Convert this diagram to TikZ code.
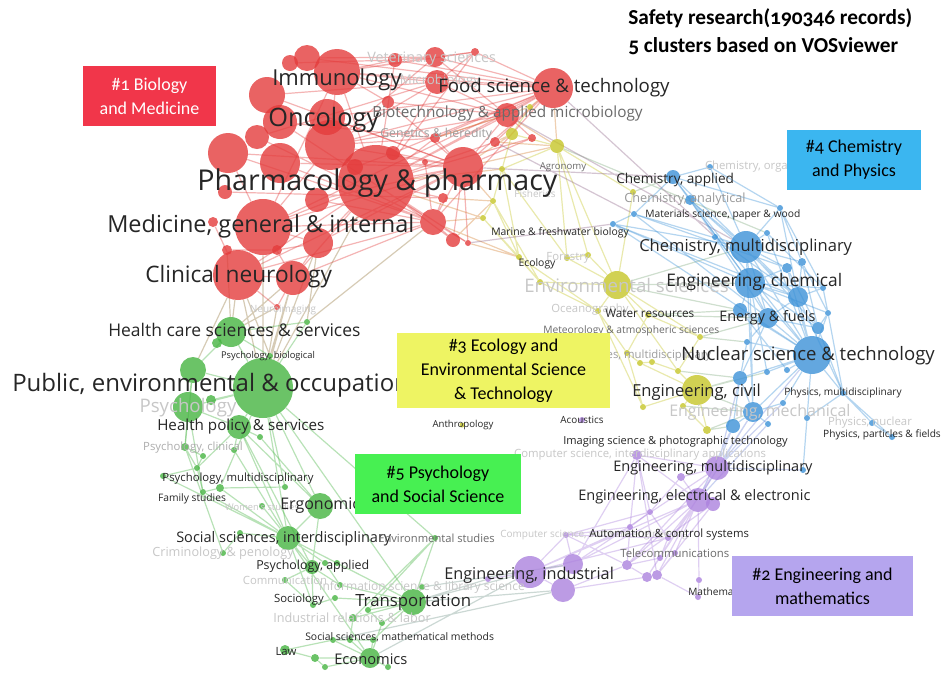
\documentclass[tikz,border=0pt]{standalone}
\usepackage{fontspec}
\usetikzlibrary{backgrounds}
\newfontfamily\vosfont{Open Sans}
\newfontfamily\capfont[Numbers=OldStyle]{Carlito}
\newcommand{\fsz}[1]{\fontsize{#1}{#1}\selectfont}
\definecolor{vred}{RGB}{228,60,60}
\definecolor{vgrn}{RGB}{70,180,66}
\definecolor{vyel}{RGB}{198,198,40}
\definecolor{vblu}{RGB}{60,146,216}
\definecolor{vpur}{RGB}{172,130,222}
\definecolor{boxred}{RGB}{241,54,74}
\definecolor{boxblu}{RGB}{59,182,240}
\definecolor{boxyel}{RGB}{238,244,99}
\definecolor{boxgrn}{RGB}{71,240,82}
\definecolor{boxpur}{RGB}{181,165,238}

\begin{document}
\begin{tikzpicture}[
  x=0.75pt, y=-0.75pt,
  dot/.style={circle, inner sep=0pt, fill opacity=0.8, minimum size=#1*1.5pt},
  redc/.style={dot=#1, fill=vred},
  grnc/.style={dot=#1, fill=vgrn},
  yelc/.style={dot=#1, fill=vyel},
  bluc/.style={dot=#1, fill=vblu},
  purc/.style={dot=#1, fill=vpur},
  link/.style={line width=0.9pt, draw opacity=0.38},
  rlink/.style={link, draw=vred},
  glink/.style={link, draw=vgrn},
  ylink/.style={link, draw=vyel},
  blink/.style={link, draw=vblu},
  plink/.style={link, draw=vpur},
  rglink/.style={link, draw=vred!50!vgrn},
  rylink/.style={link, draw=vred!50!vyel},
  yblink/.style={link, draw=vyel!50!vblu},
  rblink/.style={link, draw=vred!50!vblu},
  bplink/.style={link, draw=vblu!50!vpur},
  gplink/.style={link, draw=vgrn!50!vpur},
  lbl/.style={inner sep=0pt, text=black!85, font=\vosfont\fsz{#1}},
  dimlbl/.style={lbl=#1, text=black!58},
  faintlbl/.style={lbl=#1, text=black!22},
  cbox/.style={inner sep=0pt, align=center, font=\capfont\fontsize{13.5}{18}\selectfont},
  ttl/.style={inner sep=0pt, align=left, font=\capfont\bfseries\fontsize{16}{21}\selectfont}
]
\useasboundingbox (0,0) rectangle (945,672);

% red cluster
\node[redc=8] (ra) at (290,63) {};
\node[redc=13] (rb) at (307,58) {};
\node[redc=23] (imm) at (337,72) {};
\node[redc=18] (rc) at (267,95) {};
\node[redc=17] (rd) at (280,122) {};
\node[redc=18] (re) at (327,117) {};
\node[redc=25] (onc) at (330,145) {};
\node[redc=20] (rf) at (228,153) {};
\node[redc=12] (rg) at (257,137) {};
\node[redc=20] (rh) at (280,163) {};
\node[redc=38] (ph) at (376,183) {};
\node[redc=28] (med) at (263,227) {};
\node[redc=12] (ri) at (317,200) {};
\node[redc=7] (rj) at (225,192) {};
\node[redc=15] (rk) at (318,243) {};
\node[redc=25] (clin) at (238,275) {};
\node[redc=17] (rl) at (293,278) {};
\node[redc=5] (rm) at (277,250) {};
\node[redc=5] (rn) at (227,250) {};
\node[redc=5] (ro) at (213,222) {};
\node[redc=8] (rp) at (355,167) {};
\node[redc=7] (rq) at (393,153) {};
\node[redc=20] (rr) at (463,167) {};
\node[redc=13] (rs) at (433,222) {};
\node[redc=7] (rt) at (453,240) {};
\node[redc=3] (ru) at (425,162) {};
\node[redc=5] (rv) at (443,198) {};
\node[redc=7] (vet) at (395,60) {};
\node[redc=10] (rw) at (435,57) {};
\node[redc=12] (micro) at (437,82) {};
\node[redc=4] (rx) at (475,52) {};
\node[redc=6] (ry) at (388,102) {};
\node[redc=5] (gen) at (435,138) {};
\node[redc=5] (rz) at (495,142) {};
\node[redc=20] (food) at (553,88) {};
\node[redc=12] (biot) at (507,115) {};
\node[redc=4] (raa) at (532,138) {};
\node[redc=3] (neuro) at (277,307) {};
\node[redc=3] (rab) at (468,243) {};

% green cluster
\node[grnc=30] (pub) at (263,388) {};
\node[grnc=13] (ga) at (193,370) {};
\node[grnc=15] (gb) at (188,407) {};
\node[grnc=15] (hcs) at (231,332) {};
\node[grnc=5] (gc) at (217,343) {};
\node[grnc=5] (gd) at (211,400) {};
\node[grnc=12] (hpol) at (239,427) {};
\node[grnc=3] (ge) at (260,437) {};
\node[grnc=4] (pclin) at (185,447) {};
\node[grnc=3] (gf) at (234,450) {};
\node[grnc=3] (gg) at (203,456) {};
\node[grnc=3] (gh) at (197,468) {};
\node[grnc=3] (gi) at (163,476) {};
\node[grnc=3] (fam) at (203,492) {};
\node[grnc=4] (pmul) at (220,488) {};
\node[grnc=3] (gj) at (285,487) {};
\node[grnc=13] (ergo) at (320,506) {};
\node[grnc=3] (women) at (262,506) {};
\node[grnc=12] (ssi) at (288,538) {};
\node[grnc=3] (gk) at (240,533) {};
\node[grnc=3] (crim) at (223,553) {};
\node[grnc=7] (papp) at (312,567) {};
\node[grnc=3] (gl) at (325,563) {};
\node[grnc=3] (gm) at (337,563) {};
\node[grnc=3] (comm) at (285,580) {};
\node[grnc=3] (gn) at (340,585) {};
\node[grnc=3] (soc) at (313,605) {};
\node[grnc=3] (go) at (335,598) {};
\node[grnc=13] (trans) at (413,602) {};
\node[grnc=3] (gp) at (368,610) {};
\node[grnc=4] (indrel) at (353,618) {};
\node[grnc=3] (info) at (422,587) {};
\node[grnc=3] (envst) at (435,538) {};
\node[grnc=3] (gq) at (382,623) {};
\node[grnc=3] (gr) at (333,640) {};
\node[grnc=3] (gs) at (350,640) {};
\node[grnc=3] (gt) at (373,640) {};
\node[grnc=5] (law) at (285,650) {};
\node[grnc=4] (gu) at (315,658) {};
\node[grnc=10] (econ) at (370,658) {};
\node[grnc=3] (gv) at (388,667) {};
\node[grnc=3] (gw) at (325,667) {};
\node[grnc=3] (psybio) at (270,356) {};
\node[grnc=3] (gx) at (307,322) {};

% yellow cluster
\node[yelc=14] (envs) at (617,285) {};
\node[yelc=15] (civ) at (697,390) {};
\node[yelc=6] (ya) at (512,134) {};
\node[yelc=7] (yb) at (557,146) {};
\node[yelc=3] (yc) at (530,107) {};
\node[yelc=3] (yd) at (502,169) {};
\node[yelc=3] (ye) at (493,201) {};
\node[yelc=3] (yf) at (483,218) {};
\node[yelc=3] (yg) at (588,255) {};
\node[yelc=3] (forest) at (567,258) {};
\node[yelc=3] (yh) at (633,192) {};
\node[yelc=3] (yi) at (540,282) {};
\node[yelc=3] (ecol) at (519,257) {};
\node[yelc=3] (ocean) at (598,311) {};
\node[yelc=3] (water) at (648,315) {};
\node[yelc=3] (yj) at (700,337) {};
\node[yelc=3] (yk) at (627,353) {};
\node[yelc=3] (yl) at (640,363) {};
\node[yelc=3] (ym) at (652,362) {};
\node[yelc=3] (yn) at (678,371) {};
\node[yelc=3] (yo) at (643,407) {};
\node[yelc=3] (yp) at (683,406) {};
\node[yelc=4] (yq) at (707,430) {};
\node[yelc=2.5] (anth) at (462,425) {};

% blue cluster
\node[bluc=7] (chapp) at (673,177) {};
\node[bluc=3] (org) at (710,167) {};
\node[bluc=5] (anal) at (690,200) {};
\node[bluc=3] (ba) at (634,214) {};
\node[bluc=3] (bb) at (613,224) {};
\node[bluc=3] (bc) at (715,237) {};
\node[bluc=16] (chmul) at (746,247) {};
\node[bluc=15] (engch) at (750,283) {};
\node[bluc=10] (bd) at (798,297) {};
\node[bluc=3] (be) at (780,208) {};
\node[bluc=3] (bf) at (767,233) {};
\node[bluc=4] (bg) at (802,262) {};
\node[bluc=5] (bh) at (787,268) {};
\node[bluc=3] (bi) at (823,288) {};
\node[bluc=3] (bj) at (828,313) {};
\node[bluc=7] (bk) at (740,310) {};
\node[bluc=10] (en) at (768,318) {};
\node[bluc=6] (bl) at (818,328) {};
\node[bluc=3] (bm) at (747,342) {};
\node[bluc=19] (nuc) at (812,355) {};
\node[bluc=3] (bn) at (787,370) {};
\node[bluc=3] (bo) at (767,372) {};
\node[bluc=7] (bp) at (740,378) {};
\node[bluc=10] (mech) at (753,412) {};
\node[bluc=7] (bq) at (733,426) {};
\node[bluc=3] (br) at (768,424) {};
\node[bluc=3] (bs) at (783,403) {};
\node[bluc=3] (bt) at (807,418) {};
\node[bluc=3] (phm) at (843,393) {};
\node[bluc=3] (phn) at (872,423) {};
\node[bluc=3] (php) at (892,437) {};
\node[bluc=3] (bu) at (803,470) {};

% purple cluster
\node[purc=12] (mulE) at (717,468) {};
\node[purc=12] (ele) at (698,500) {};
\node[purc=7] (pa) at (713,504) {};
\node[purc=4] (pb) at (681,477) {};
\node[purc=5] (img) at (637,455) {};
\node[purc=3] (pc) at (650,512) {};
\node[purc=3] (pd) at (630,527) {};
\node[purc=3] (cs) at (566,535) {};
\node[purc=3] (auto) at (668,538) {};
\node[purc=3] (pe) at (660,558) {};
\node[purc=5] (pf) at (627,565) {};
\node[purc=5] (pg) at (647,577) {};
\node[purc=5] (pgg) at (657,575) {};
\node[purc=3] (tel) at (675,553) {};
\node[purc=3] (pj) at (699,580) {};
\node[purc=3] (math) at (698,597) {};
\node[purc=16] (ind) at (530,572) {};
\node[purc=10] (pk) at (573,564) {};
\node[purc=12] (pl) at (563,590) {};
\node[purc=3] (pm) at (488,579) {};
\node[purc=3] (acou) at (582,420) {};

% links
\begin{scope}[on background layer]
\fill[white] (0,0) rectangle (945,672);
\draw[rlink] (ph) -- (med) (ph) -- (onc) (ph) -- (imm) (ph) -- (clin) (ph) -- (food) (ph) -- (biot) (ph) -- (rr) (ph) -- (rs) (ph) -- (gen) (ph) -- (micro) (ph) -- (rz) (ph) -- (rt) (ph) -- (rv) (ph) -- (rk) (ph) -- (rl) (ph) -- (rx) (ph) -- (vet) (ph) -- (raa) (ph) -- (rab);
\draw[rlink] (med) -- (clin) (med) -- (onc) (med) -- (rf) (med) -- (rk) (med) -- (rl) (med) -- (rs) (med) -- (imm) (med) -- (food) (med) -- (rr);
\draw[rlink] (onc) -- (imm) (onc) -- (rr) (onc) -- (food) (onc) -- (biot) (onc) -- (micro) (onc) -- (rw) (onc) -- (gen);
\draw[rlink] (imm) -- (micro) (imm) -- (rw) (imm) -- (vet) (imm) -- (food) (imm) -- (ry) (imm) -- (rx) (imm) -- (biot);
\draw[rlink] (food) -- (biot) (food) -- (rr) (food) -- (micro) (food) -- (rw) (food) -- (rx) (food) -- (gen) (food) -- (rs) (food) -- (rz) (food) -- (vet);
\draw[rlink] (biot) -- (gen) (biot) -- (micro) (biot) -- (raa) (biot) -- (rr) (biot) -- (rw) (biot) -- (ry);
\draw[rlink] (rr) -- (rs) (rr) -- (rt) (rr) -- (gen) (rs) -- (rt) (rs) -- (clin) (rs) -- (rab) (rs) -- (rv) (rr) -- (raa) (rr) -- (rab);
\draw[rlink] (clin) -- (rl) (clin) -- (neuro) (rl) -- (neuro) (rk) -- (rl) (vet) -- (rw) (rw) -- (rx) (micro) -- (rx) (ru) -- (rs) (rp) -- (rq) (rq) -- (rr) (ro) -- (clin) (rn) -- (rm) (rm) -- (rk) (rc) -- (rr) (rd) -- (rs) (rf) -- (rs) (rg) -- (micro) (rh) -- (rs) (ri) -- (rr) (ra) -- (vet) (rb) -- (rw) (rj) -- (rv);
\draw[rlink] (rc) -- (micro) (rd) -- (gen) (rf) -- (rr) (rg) -- (rs) (rh) -- (rr) (ri) -- (rs) (rb) -- (food) (rk) -- (rr) (rl) -- (rs) (re) -- (rr) (re) -- (food) (clin) -- (rr) (rq) -- (food) (ry) -- (rr);
\draw[rglink] (clin) -- (hcs) (clin) -- (pub) (med) -- (pub) (rl) -- (hcs) (rl) -- (pub) (neuro) -- (hcs) (neuro) -- (pub) (ph) -- (pub) (rk) -- (pub) (clin) -- (psybio) (rl) -- (psybio) (rs) -- (gx) (clin) -- (ga) (rn) -- (hcs) (rk) -- (gx);
\draw[rylink] (biot) -- (ya) (food) -- (yb) (ph) -- (yd) (rr) -- (ye) (rs) -- (yf) (rz) -- (ya) (gen) -- (yc) (biot) -- (yb) (rr) -- (ya) (rr) -- (yb) (rt) -- (ye) (rab) -- (ecol) (rs) -- (ecol) (food) -- (yc) (ph) -- (yf) (rz) -- (yb) (rv) -- (ye);
\draw[ylink] (ya) -- (yb) (yb) -- (yh) (ya) -- (yd) (yb) -- (yd) (yd) -- (ye) (ye) -- (yf) (ye) -- (ecol) (yf) -- (ecol) (ecol) -- (yi) (yi) -- (envs) (yg) -- (envs) (forest) -- (envs) (yg) -- (forest) (yb) -- (yg) (yd) -- (forest) (envs) -- (ocean) (envs) -- (water) (ocean) -- (yk) (water) -- (yj) (envs) -- (yj) (yk) -- (yl) (yl) -- (ym) (ym) -- (yn) (yj) -- (yn) (yk) -- (yo) (yo) -- (civ) (civ) -- (yp) (yp) -- (yq) (civ) -- (yq) (yn) -- (civ) (yl) -- (civ) (water) -- (yk) (yb) -- (forest) (yf) -- (yi) (yc) -- (ya) (envs) -- (yh) (yb) -- (envs) (ecol) -- (ocean) (ocean) -- (yo) (envs) -- (yn) (yi) -- (ocean) (yd) -- (ecol) (ye) -- (yi);
\draw[yblink] (yh) -- (chapp) (envs) -- (engch) (envs) -- (chmul) (water) -- (en) (yj) -- (bm) (yj) -- (en) (water) -- (bk) (civ) -- (bp) (civ) -- (mech) (yq) -- (bq) (yp) -- (mech) (yb) -- (bf) (envs) -- (bk) (yn) -- (bp) (civ) -- (bo) (yq) -- (mech);
\draw[rblink] (food) -- (bc) (rab) -- (bb) (rz) -- (ba) (biot) -- (chmul) (rr) -- (chapp);
\draw[blink] (chapp) -- (org) (chapp) -- (anal) (chapp) -- (chmul) (chapp) -- (engch) (chapp) -- (ba) (chapp) -- (be) (anal) -- (chmul) (anal) -- (bc) (ba) -- (chmul) (bb) -- (chmul) (bb) -- (engch) (ba) -- (bb) (bc) -- (chmul) (chmul) -- (engch) (chmul) -- (bd) (chmul) -- (be) (chmul) -- (bf) (chmul) -- (bg) (chmul) -- (bh) (chmul) -- (nuc) (chmul) -- (en) (engch) -- (bd) (engch) -- (en) (engch) -- (nuc) (engch) -- (bk) (engch) -- (bh) (engch) -- (bi) (engch) -- (bj) (engch) -- (bl);
\draw[blink] (bd) -- (bg) (bd) -- (bi) (bd) -- (nuc) (be) -- (bi) (be) -- (bg) (en) -- (nuc) (en) -- (bl) (en) -- (bk) (en) -- (bm) (nuc) -- (bl) (nuc) -- (bn) (nuc) -- (bo) (nuc) -- (bp) (nuc) -- (mech) (nuc) -- (phm) (nuc) -- (bs) (nuc) -- (bt) (nuc) -- (bj) (phm) -- (phn) (phm) -- (php) (phn) -- (php) (bt) -- (bu) (phm) -- (bt) (mech) -- (bq) (mech) -- (br) (mech) -- (bs) (bp) -- (mech) (bp) -- (bq) (bj) -- (phm) (bl) -- (phm) (bl) -- (bj) (org) -- (be) (anal) -- (engch) (bd) -- (en) (bh) -- (nuc) (bk) -- (nuc) (be) -- (bd) (org) -- (chmul) (engch) -- (mech) (chmul) -- (mech) (bg) -- (bj) (bi) -- (bj);
\draw[blink] (bb) -- (nuc) (ba) -- (en) (bb) -- (bd) (ba) -- (bh) (bc) -- (bd) (bf) -- (nuc) (bc) -- (en) (chapp) -- (nuc) (anal) -- (bd) (bf) -- (bi) (bh) -- (bl) (bg) -- (bl) (bk) -- (bn) (bm) -- (nuc) (bm) -- (bp) (en) -- (bp) (engch) -- (bo) (chmul) -- (bl) (bd) -- (phm);
\draw[bplink] (mech) -- (mulE) (bq) -- (mulE) (bu) -- (mulE) (br) -- (ele) (bs) -- (mulE) (bq) -- (ele) (mech) -- (ele) (nuc) -- (mulE) (bp) -- (mulE);
\draw[plink] (mulE) -- (ele) (mulE) -- (pb) (ele) -- (pa) (ele) -- (pb) (img) -- (pc) (img) -- (pd) (img) -- (mulE) (pc) -- (pd) (pd) -- (cs) (cs) -- (ind) (cs) -- (pk) (pc) -- (auto) (auto) -- (pe) (ele) -- (auto) (ele) -- (pf) (ele) -- (pg) (ele) -- (pgg) (ele) -- (tel) (mulE) -- (pf) (mulE) -- (pg) (pf) -- (pg) (pg) -- (pgg) (pe) -- (pf) (pj) -- (math) (ele) -- (pj);
\draw[plink] (ind) -- (pk) (ind) -- (pl) (pk) -- (pl) (ind) -- (pd) (pl) -- (pf) (pk) -- (img) (pm) -- (ind) (math) -- (pgg) (cs) -- (auto) (cs) -- (pf) (ind) -- (ele) (pk) -- (ele) (pl) -- (pg) (cs) -- (pc) (img) -- (ele) (pa) -- (pgg) (pa) -- (pf) (tel) -- (pgg) (pb) -- (pc) (pd) -- (pf) (ind) -- (auto) (pk) -- (mulE) (img) -- (pgg);
\draw[gplink] (trans) -- (ind) (trans) -- (pm) (econ) -- (ind) (gr) -- (pl) (trans) -- (pl) (info) -- (pk);
\draw[glink] (pub) -- (ga) (pub) -- (gb) (pub) -- (hcs) (pub) -- (hpol) (pub) -- (gd) (pub) -- (ssi) (pub) -- (ergo) (pub) -- (gj) (pub) -- (psybio) (pub) -- (trans) (pub) -- (envst) (pub) -- (gx) (hcs) -- (ga) (hcs) -- (gc) (hcs) -- (psybio) (hcs) -- (gx) (ga) -- (gb) (gb) -- (hpol) (gb) -- (pclin) (hpol) -- (ge) (hpol) -- (gf) (hpol) -- (ssi) (hpol) -- (ergo) (pclin) -- (gg) (pclin) -- (gh) (gg) -- (gh) (gh) -- (gi) (gh) -- (fam) (fam) -- (pmul) (pmul) -- (gj) (fam) -- (ssi) (pmul) -- (ssi) (gi) -- (ssi) (pclin) -- (crim) (gk) -- (ssi) (gk) -- (crim) (women) -- (ssi);
\draw[glink] (ergo) -- (ssi) (ergo) -- (papp) (ssi) -- (papp) (ssi) -- (gl) (ssi) -- (gm) (papp) -- (comm) (papp) -- (gn) (papp) -- (soc) (gn) -- (trans) (soc) -- (go) (go) -- (trans) (trans) -- (gp) (trans) -- (indrel) (trans) -- (info) (trans) -- (envst) (gp) -- (gq) (trans) -- (gq) (gs) -- (econ) (gr) -- (econ) (gt) -- (econ) (law) -- (gu) (gu) -- (econ) (econ) -- (gv) (econ) -- (gw) (gw) -- (gu) (gs) -- (indrel) (gq) -- (econ) (gt) -- (trans) (envst) -- (gp) (envst) -- (indrel) (ge) -- (ergo) (gf) -- (ssi) (gb) -- (fam) (ga) -- (pclin) (hpol) -- (gh) (hpol) -- (papp) (ssi) -- (soc) (ssi) -- (trans) (pub) -- (pmul) (comm) -- (soc) (gr) -- (gs) (gs) -- (gt) (ssi) -- (econ) (law) -- (gr) (gm) -- (trans) (gl) -- (gn);
\end{scope}

% labels
\node[faintlbl=10.8, anchor=west] (t-vet) at (367,59) {Veterinary sciences};
\node[faintlbl=10] (t-micro) at (440,81) {Microbiology};
\node[lbl=16.5, anchor=west] (t-imm) at (272,80) {Immunology};
\node[lbl=14, anchor=west] (t-food) at (438,88) {Food science \& technology};
\node[lbl=19, anchor=west] (t-onc) at (268,120) {Oncology};
\node[dimlbl=11.5, anchor=west] (t-biot) at (372,114) {Biotechnology \& applied microbiology};
\node[dimlbl=9.2, text=black!38, anchor=west] (t-gen) at (380,134) {Genetics \& heredity};
\node[dimlbl=7.2] (t-agro) at (563,167) {Agronomy};
\node[faintlbl=7.5] (t-fish) at (535,194) {Fisheries};
\node[lbl=21.5, anchor=west] (t-ph) at (197,183) {Pharmacology \& pharmacy};
\node[lbl=17.6, anchor=west] (t-med) at (107,226) {Medicine, general \& internal};
\node[lbl=17, anchor=west] (t-clin) at (145,277) {Clinical neurology};
\node[faintlbl=7.5] (t-neuro) at (283,310) {Neuroimaging};
\node[lbl=13.1, anchor=west] (t-hcs) at (108,330) {Health care sciences \& services};
\node[lbl=7] (t-psybio) at (268,356) {Psychology, biological};
\node[faintlbl=14] (t-psy) at (188,408) {Psychology};
\node[lbl=18, anchor=west] (t-pub) at (12,385) {Public, environmental \& occupational health};
\node[lbl=11.4, anchor=west] (t-hpol) at (157,427) {Health policy \& services};
\node[dimlbl=8.5, text=black!32] (t-pclin) at (193,448) {Psychology, clinical};
\node[lbl=8.5] (t-pmul) at (238,479) {Psychology, multidisciplinary};
\node[lbl=7.7] (t-fam) at (192,499) {Family studies};
\node[faintlbl=7] (t-women) at (262,507) {Women's studies};
\node[lbl=12, anchor=west] (t-ergo) at (280,506) {Ergonomics};
\node[lbl=10.9, anchor=west] (t-ssi) at (176,539) {Social sciences, interdisciplinary};
\node[faintlbl=9.5] (t-crim) at (223,553) {Criminology \& penology};
\node[lbl=9.3, anchor=west] (t-papp) at (256,566) {Psychology, applied};
\node[faintlbl=8.5] (t-comm) at (285,580) {Communication};
\node[faintlbl=9] (t-info) at (422,587) {Information science \& library science};
\node[lbl=8.5] (t-soc) at (299,600) {Sociology};
\node[faintlbl=9.5] (t-indrel) at (352,618) {Industrial relations \& labor};
\node[lbl=12.6, anchor=west] (t-trans) at (355,602) {Transportation};
\node[lbl=7.8, anchor=west] (t-ssmath) at (305,637) {Social sciences, mathematical methods};
\node[lbl=8.5] (t-law) at (286,651) {Law};
\node[lbl=11, anchor=west] (t-econ) at (334,659) {Economics};
\node[dimlbl=8.4, anchor=west] (t-envst) at (378,538) {Environmental studies};
\node[faintlbl=7.5, anchor=west] (t-cs) at (500,535) {Computer science, software engineering};
\node[lbl=12.2, anchor=west] (t-ind) at (444,575) {Engineering, industrial};
\node[lbl=8.5, anchor=west] (t-auto) at (589,535) {Automation \& control systems};
\node[dimlbl=8.5, anchor=west] (t-tel) at (620,553) {Telecommunications};
\node[lbl=7.6, anchor=west] (t-math) at (688,592) {Mathematics};
\node[faintlbl=8.5] (t-csi) at (640,455) {Computer science, interdisciplinary applications};
\node[lbl=8.3, anchor=west] (t-img) at (563,442) {Imaging science \& photographic technology};
\node[lbl=10.9, anchor=west] (t-ele) at (578,497) {Engineering, electrical \& electronic};
\node[lbl=10.9, anchor=west] (t-mulE) at (613,468) {Engineering, multidisciplinary};
\node[lbl=7.4] (t-ac) at (582,420) {Acoustics};
\node[lbl=7.2] (t-anth) at (463,425) {Anthropology};
\node[faintlbl=8.5] (t-org) at (754,167) {Chemistry, organic};
\node[lbl=10.2, anchor=west] (t-chapp) at (616,180) {Chemistry, applied};
\node[dimlbl=9.5, text=black!40] (t-anal) at (685,199) {Chemistry, analytical};
\node[lbl=7.7, anchor=west] (t-mat) at (645,215) {Materials science, paper \& wood};
\node[lbl=7.8, anchor=west] (t-marine) at (491,233) {Marine \& freshwater biology};
\node[lbl=12.4, anchor=west] (t-chmul) at (639,247) {Chemistry, multidisciplinary};
\node[faintlbl=8.5] (t-forest) at (568,258) {Forestry};
\node[lbl=7.8] (t-ecol) at (537,264) {Ecology};
\node[faintlbl=14, anchor=west] (t-envs) at (524,285) {Environmental sciences};
\node[lbl=13, anchor=west] (t-engch) at (666,282) {Engineering, chemical};
\node[faintlbl=8.5] (t-ocean) at (590,310) {Oceanography};
\node[lbl=8.8, anchor=west] (t-water) at (605,313) {Water resources};
\node[lbl=10.8, anchor=west] (t-en) at (719,318) {Energy \& fuels};
\node[dimlbl=7.7, anchor=west] (t-met) at (543,331) {Meteorology \& atmospheric sciences};
\node[faintlbl=8.5, text=black!38] (t-geo) at (632,356) {Geosciences, multidisciplinary};
\node[lbl=13.9, anchor=west] (t-nuc) at (681,356) {Nuclear science \& technology};
\node[lbl=12.4, anchor=west] (t-civ) at (632,392) {Engineering, civil};
\node[lbl=7.6] (t-phm) at (843,393) {Physics, multidisciplinary};
\node[faintlbl=12, anchor=west] (t-mech) at (669,412) {Engineering, mechanical};
\node[faintlbl=8.5] (t-phn) at (870,423) {Physics, nuclear};
\node[lbl=7.6] (t-php) at (882,435) {Physics, particles \& fields};

% cluster boxes
\node[cbox, fill=boxred, text=white, minimum width=99.75pt, minimum height=45pt] (c1) at (149.5,96) {\#1 Biology\\and Medicine};
\node[cbox, fill=boxblu, minimum width=100.5pt, minimum height=45pt] (c4) at (854,160) {\#4 Chemistry\\and Physics};
\node[cbox, fill=boxyel, minimum width=159.75pt, minimum height=56.25pt] (c3) at (503.5,370.5) {\#3 Ecology and\\Environmental Science\\\& Technology};
\node[cbox, fill=boxgrn, minimum width=124.5pt, minimum height=45pt] (c5) at (438,484) {\#5 Psychology\\and Social Science};
\node[cbox, fill=boxpur, minimum width=135.75pt, minimum height=45pt] (c2) at (822.5,586) {\#2 Engineering and\\mathematics};

\node[ttl, anchor=west] (title) at (628,32) {Safety research(190346 records)\\5 clusters based on VOSviewer};
\end{tikzpicture}
\end{document}
